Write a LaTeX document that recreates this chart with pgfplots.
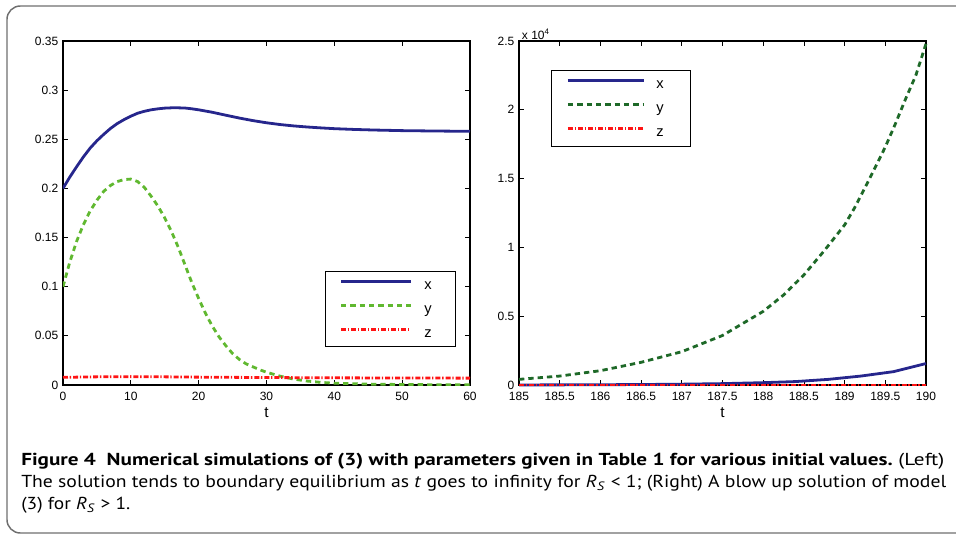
\documentclass[border=0pt]{standalone}
\usepackage{pgfplots}
\pgfplotsset{compat=1.18}
\usepackage{graphicx}
\usepackage{fontspec}
\setmainfont{Liberation Sans}
\newfontfamily\capfont{PT Sans}
\definecolor{cx}{RGB}{38,38,140}
\definecolor{cyl}{RGB}{96,184,48}
\definecolor{cyd}{RGB}{30,105,40}
\definecolor{cz}{RGB}{255,20,20}
\definecolor{frame}{RGB}{110,110,110}

\pgfplotstableread{
t v
0 0.200
1 0.2115
2 0.222
3 0.232
4 0.241
5 0.2485
6 0.255
7 0.261
8 0.266
9 0.270
10 0.2735
11 0.2765
12 0.2785
13 0.280
14 0.281
15 0.2817
16 0.282
17 0.282
18 0.2818
19 0.281
20 0.280
22 0.2775
24 0.2745
26 0.2716
28 0.2690
30 0.2668
32 0.2650
34 0.2636
36 0.2625
38 0.2616
40 0.2608
43 0.2600
46 0.2594
50 0.2588
55 0.2584
60 0.2581
}\leftx
\pgfplotstableread{
t v
0 0.100
1 0.125
2 0.146
3 0.163
4 0.177
5 0.188
6 0.197
7 0.203
8 0.207
9 0.209
10 0.2095
11 0.207
12 0.201
13 0.192
14 0.182
15 0.170
16 0.156
17 0.140
18 0.122
19 0.104
20 0.088
21 0.073
22 0.060
23 0.049
24 0.040
25 0.032
26 0.026
27 0.0215
28 0.0185
29 0.0155
30 0.013
32 0.009
34 0.006
36 0.004
38 0.0027
40 0.0018
45 0.0009
50 0.0005
55 0.0003
60 0.0002
}\lefty
\pgfplotstableread{
t v
0 0.0078
5 0.0083
10 0.0085
15 0.0083
20 0.0080
30 0.0076
40 0.0073
50 0.0071
60 0.0070
}\leftz
\pgfplotstableread{
t v
185 5
185.5 10
186 20
186.5 35
187 60
187.5 100
188 170
188.4 250
188.8 410
189.2 650
189.6 970
190 1560
}\rightx
\pgfplotstableread{
t v
185 410
185.5 650
186 1040
186.5 1650
187 2420
187.5 3600
188 5350
188.25 6540
188.5 8000
188.75 9760
189 11630
189.125 12900
189.25 14340
189.375 15800
189.5 17300
189.625 19000
189.75 20800
189.875 22500
190 24800
}\righty
\pgfplotstableread{
t v
185 3
186 3
187 3
188 3
189 3
190 3
}\rightz

\pgfplotsset{
  mlab/.style={
    scale only axis, width=305.25pt, height=258pt, anchor=north west,
    axis line style={line width=0.9pt},
    tick align=inside, xtick pos=both, ytick pos=both,
    major tick length=3.75pt, tick style={line width=0.6pt, black},
    tick label style={font=\fontsize{9pt}{10pt}\selectfont},
    xticklabel style={yshift=-2pt},
    /pgf/number format/assume math mode=true,
    xlabel={t}, xlabel style={font=\fontsize{11.5pt}{12pt}\selectfont, yshift=2pt},
    legend cell align=left,
    legend image code/.code={\draw[#1, line width=2.1pt] (0pt,0.28em) -- (\pgfkeysvalueof{/pgfplots/leglen},0.28em);},
  },
  /pgfplots/leglen/.initial=52.5pt,
  sx/.style={color=cx, line width=2.1pt, solid},
  sz/.style={color=cz, line width=2.1pt, dash pattern=on 3.75pt off 1.3pt on 1pt off 1.5pt},
}
\begin{document}
\begin{tikzpicture}
\path[use as bounding box] (0,0) rectangle (717pt,-401.25pt);
\begin{scope}
\clip (0,0) rectangle (717pt,-401.25pt);
\draw[frame, line width=1.1pt, rounded corners=10pt] (5.25pt,-4.5pt) rectangle (760pt,-399.75pt);
\end{scope}

\begin{axis}[mlab, at={(47.25pt,-30.75pt)},
  xmin=0, xmax=60, ymin=0, ymax=0.35,
  xtick={0,10,...,60}, ytick={0,0.05,...,0.351},
  scaled ticks=false,
  yticklabel style={/pgf/number format/fixed, /pgf/number format/precision=2},
  leglen=52.5pt,
  legend style={at={(rel axis cs:0.644,0.331)}, anchor=north west, draw=black, line width=0.75pt,
    font=\fontsize{11pt}{12pt}\selectfont, inner xsep=10.5pt, inner ysep=5.8pt, row sep=8.8pt,
    nodes={inner sep=0pt}, /tikz/every odd column/.append style={column sep=9pt}},
]
\addplot[sx] table {\leftx};
\addlegendentry{\makebox[12.75pt][l]{x\vphantom{Xy}}}
\addplot[color=cyl, line width=2.1pt, dash pattern=on 4pt off 3pt] table {\lefty};
\addlegendentry{\makebox[12.75pt][l]{y\vphantom{Xy}}}
\addplot[sz] table {\leftz};
\addlegendentry{\makebox[12.75pt][l]{z\vphantom{Xy}}}
\end{axis}

\begin{axis}[mlab, at={(389.25pt,-30.75pt)}, clip=false,
  xmin=185, xmax=190, ymin=0, ymax=25000,
  xtick={185,185.5,...,190}, ytick={0,5000,...,25000},
  xticklabel style={/pgf/number format/fixed, /pgf/number format/precision=1},
  yticklabel style={/pgf/number format/fixed, /pgf/number format/precision=1},
  scaled x ticks=false,
  scaled y ticks=base 10:-4,
  ytick scale label code/.code={x 10\textsuperscript{4}},
  every y tick scale label/.style={at={(rel axis cs:0,1)}, anchor=south west, inner sep=1pt, xshift=1pt, font=\fontsize{9pt}{10pt}\selectfont},
  leglen=57pt,
  legend style={at={(rel axis cs:0.0786,0.916)}, anchor=north west, draw=black, line width=0.75pt,
    font=\fontsize{11pt}{12pt}\selectfont, inner xsep=11.25pt, inner ysep=6pt, row sep=8.9pt,
    nodes={inner sep=0pt}, /tikz/every odd column/.append style={column sep=8.25pt}},
]
\addplot[sx] table {\rightx};
\addlegendentry{\makebox[14.25pt][l]{x\vphantom{Xy}}}
\addplot[color=cyd, line width=2.1pt, dash pattern=on 4pt off 3pt] table {\righty};
\addlegendentry{\makebox[14.25pt][l]{y\vphantom{Xy}}}
\addplot[sz] table {\rightz};
\addlegendentry{\makebox[14.25pt][l]{z\vphantom{Xy}}}
\end{axis}

\node[anchor=base west, inner sep=0pt] at (15.75pt,-348.75pt)
  {\resizebox{692.25pt}{\height}{\capfont\fontsize{13pt}{16pt}\selectfont\textbf{Figure 4\ \ Numerical simulations of (3) with parameters given in Table 1 for various initial values.}\ (Left)}};
\node[anchor=base west, inner sep=0pt] at (15.75pt,-365.25pt)
  {\resizebox{693.75pt}{\height}{\capfont\fontsize{13pt}{16pt}\selectfont The solution tends to boundary equilibrium as \textit{t} goes to infinity for \textit{R}\textsubscript{\textit{S}} {<} 1; (Right) A blow up solution of model}};
\node[anchor=base west, inner sep=0pt] at (15.75pt,-381.75pt)
  {\scalebox{1.12}[1]{\capfont\fontsize{13pt}{16pt}\selectfont (3) for \textit{R}\textsubscript{\textit{S}} {>} 1.}};
\end{tikzpicture}
\end{document}
